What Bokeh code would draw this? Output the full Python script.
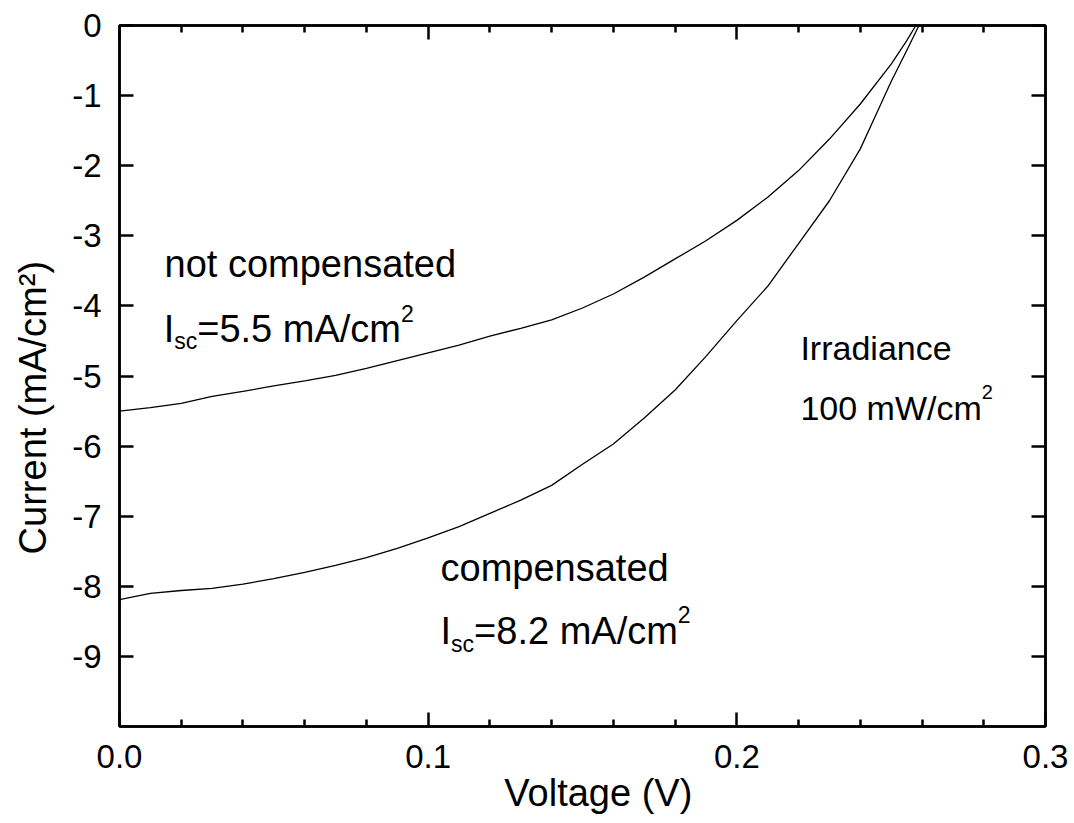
import math
from bokeh.plotting import figure
from bokeh.models import (LinearAxis, FixedTicker, CustomJSTickFormatter, Label,
                          CustomLabelingPolicy)
from bokeh.embed import file_html
from bokeh.resources import INLINE

# ---------------- data ----------------
v_not = [0.00, 0.01, 0.02, 0.03, 0.04, 0.05, 0.06, 0.07, 0.08, 0.09, 0.10,
         0.11, 0.12, 0.13, 0.14, 0.15, 0.16, 0.17, 0.18, 0.19, 0.20, 0.21,
         0.22, 0.23, 0.24, 0.25, 0.255, 0.258]
i_not = [-5.50, -5.45, -5.39, -5.29, -5.22, -5.14, -5.07, -4.99, -4.89, -4.78, -4.67,
         -4.56, -4.43, -4.32, -4.20, -4.03, -3.83, -3.59, -3.33, -3.07, -2.78, -2.45,
         -2.07, -1.62, -1.12, -0.55, -0.22, 0.0]

v_comp = [0.00, 0.01, 0.02, 0.03, 0.04, 0.05, 0.06, 0.07, 0.08, 0.09, 0.10,
          0.11, 0.12, 0.13, 0.14, 0.15, 0.16, 0.17, 0.18, 0.19, 0.20, 0.21,
          0.22, 0.23, 0.24, 0.245, 0.25, 0.255, 0.259]
i_comp = [-8.19, -8.10, -8.06, -8.03, -7.97, -7.89, -7.80, -7.70, -7.59, -7.46, -7.31,
          -7.15, -6.96, -6.77, -6.56, -6.26, -5.97, -5.60, -5.20, -4.72, -4.21, -3.72,
          -3.11, -2.50, -1.76, -1.28, -0.80, -0.36, 0.0]

x_ticks = [0.0, 0.1, 0.2, 0.3]
x_minor = [0.02, 0.04, 0.06, 0.08, 0.12, 0.14, 0.16, 0.18,
           0.22, 0.24, 0.26, 0.28]
y_ticks = [0, -1, -2, -3, -4, -5, -6, -7, -8, -9]

NB = "\u00a0"
x_title = NB * 3 + "Voltage (V)"
y_title = "Current (mA/cm²)" + NB * 6

FONT = "Liberation Sans"

p = figure(frame_width=926, frame_height=701,
           x_range=(0.0, 0.3), y_range=(-10, 0),
           output_backend="svg", toolbar_location=None,
           min_border_left=119, min_border_right=25,
           min_border_top=25, min_border_bottom=90,
           x_axis_location=None, y_axis_location=None)
p.background_fill_color = "white"
p.border_fill_color = "white"
p.xgrid.visible = False
p.ygrid.visible = False
p.outline_line_color = "black"
p.outline_line_width = 2.5

xt = FixedTicker(ticks=x_ticks, minor_ticks=x_minor)
yt = FixedTicker(ticks=y_ticks)
xfmt = CustomJSTickFormatter(code="return tick.toFixed(1);")
yfmt = CustomJSTickFormatter(code="return Math.round(tick).toFixed(0);")
hide = CustomLabelingPolicy(code="const a = [...indices]; for (const i of a) indices.unset(i); return indices;")


def style_axis(ax, show_labels, minor):
    ax.axis_line_color = "black"
    ax.axis_line_width = 2.5
    ax.major_tick_line_color = "black"
    ax.major_tick_line_width = 2.5
    ax.major_tick_in = 14
    ax.major_tick_out = 0
    if minor:
        ax.minor_tick_line_color = "black"
        ax.minor_tick_line_width = 2.5
        ax.minor_tick_in = 7
        ax.minor_tick_out = 0
    else:
        ax.minor_tick_line_color = None
    if show_labels:
        ax.major_label_text_font = FONT
        ax.major_label_text_font_size = "33px"
        ax.major_label_text_color = "black"
        ax.axis_label_text_font = FONT
        ax.axis_label_text_font_style = "normal"
        ax.axis_label_text_color = "black"
    else:
        ax.major_label_text_font_size = "0px"
        ax.major_label_standoff = 0
        ax.major_label_policy = hide


bottom = LinearAxis(ticker=xt, formatter=xfmt, axis_label=x_title)
style_axis(bottom, True, True)
bottom.major_label_standoff = 18
bottom.axis_label_text_font_size = "38px"
bottom.axis_label_standoff = 1
top = LinearAxis(ticker=xt, formatter=xfmt)
style_axis(top, False, True)
left = LinearAxis(ticker=yt, formatter=yfmt, axis_label=y_title)
style_axis(left, True, False)
left.major_label_standoff = 18
left.axis_label_text_font_size = "38px"
left.axis_label_standoff = 15
right = LinearAxis(ticker=yt, formatter=yfmt)
style_axis(right, False, False)

p.add_layout(bottom, "below")
p.add_layout(top, "above")
p.add_layout(left, "left")
p.add_layout(right, "right")

# curves
p.line(v_not, i_not, line_color="black", line_width=1.3)
p.line(v_comp, i_comp, line_color="black", line_width=1.3)

# ---------------- text ----------------
# Arial / Liberation Sans advance widths (per 1000 em)
W = {'I': 278, 's': 500, 'c': 500, '=': 584, '5': 556, '.': 278, ' ': 278,
     'm': 833, 'A': 667, '/': 278, '8': 556, '2': 556, '1': 556, '0': 556,
     'W': 944}
PX_PER_Y = 701 / 10.0
RAISE = 10 / PX_PER_Y   # baseline correction


def text_width(t, size):
    return sum(W.get(ch, 556) for ch in t) * size / 1000.0


def rich(x, y, parts):
    off = 0.0
    for t, size, dy in parts:
        p.add_layout(Label(x=x, y=y + RAISE + dy / PX_PER_Y, x_offset=off, text=t,
                           text_font=FONT, text_font_size=f"{size}px",
                           text_color="black", text_baseline="alphabetic",
                           text_align="left"))
        off += text_width(t, size)


def plain(x, y, t, size, **kw):
    p.add_layout(Label(x=x, y=y + RAISE, text=t, text_font=FONT,
                       text_font_size=f"{size}px", text_color="black",
                       text_baseline="alphabetic", **kw))


plain(0.0146, -3.543, "not compensated", 38)
rich(0.0143, -4.476, [("I", 38, 0), ("sc", 23, -12), ("=5.5 mA/cm", 38, 0), ("2", 23, 16)])
plain(0.1040, -7.881, "compensated", 38)
rich(0.1040, -8.786, [("I", 38, 0), ("sc", 23, -13), ("=8.2 mA/cm", 38, 0), ("2", 23, 17)])
plain(0.2206, -4.739, "Irradiance", 34)
rich(0.2206, -5.596, [("100 mW/cm", 34, 0), ("2", 20, 16)])

open("out.html", "w").write(file_html(p, INLINE))
